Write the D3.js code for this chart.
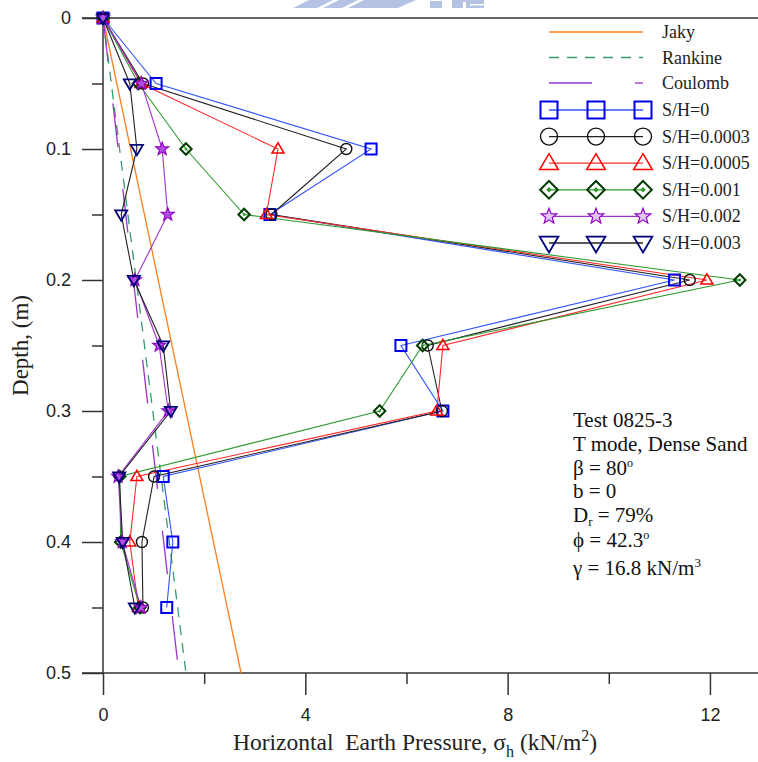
<!DOCTYPE html>
<html>
<head>
<meta charset="utf-8">
<script src="https://cdn.jsdelivr.net/npm/d3@7"></script>
<style>
  html, body { margin: 0; padding: 0; background: #fff; }
  svg { display: block; }
</style>
</head>
<body>
<svg id="chart" width="758" height="762"></svg>
<script>
// Depth levels (m) at which earth pressure was measured
const depths = [0, 0.05, 0.1, 0.15, 0.2, 0.25, 0.3, 0.35, 0.4, 0.45];

// Measured horizontal earth pressure (kN/m2) for each wall movement S/H
const sh0     = [0, 1.05, 5.30, 3.30, 11.30, 5.89, 6.72, 1.19, 1.38, 1.26];
const sh0003  = [0, 0.79, 4.81, 3.33, 11.60, 6.42, 6.70, 1.01, 0.77, 0.79];
const sh0005  = [0, 0.75, 3.46, 3.23, 11.94, 6.72, 6.60, 0.67, 0.53, 0.70];
const sh001   = [0, 0.70, 1.64, 2.79, 12.59, 6.32, 5.47, 0.33, 0.35, 0.73];
const sh002   = [0, 0.76, 1.17, 1.28, 0.63, 1.11, 1.29, 0.30, 0.38, 0.75];
const sh003   = [0, 0.53, 0.67, 0.36, 0.61, 1.19, 1.34, 0.32, 0.39, 0.63];

// Theoretical distributions: [pressure at surface, pressure at 0.5 m]
const theoryDepths = [0, 0.5];
const jaky     = [0, 2.73];
const rankine  = [0, 1.64];
const coulomb  = [0, 1.50];

// Axis ticks
const xMajorTicks = [0, 4, 8, 12];
const xMinorTicks = [2, 6, 10];
const yMajorTicks = [0, 0.1, 0.2, 0.3, 0.4, 0.5];
const yMinorTicks = [0.05, 0.15, 0.25, 0.35, 0.45];

const seriesNames = ["S/H=0", "S/H=0.0003", "S/H=0.0005", "S/H=0.001", "S/H=0.002", "S/H=0.003"];
const seriesValues = [sh0, sh0003, sh0005, sh001, sh002, sh003];

const annotationLines = [
  "Test 0825-3",
  "T mode, Dense Sand",
  "β = 80°",
  "b = 0",
  "Dr = 79%",
  "ϕ = 42.3°",
  "γ = 16.8 kN/m3"
];

const svg = d3.select("#chart");
const x = d3.scaleLinear().domain([0, 12.95]).range([103, 758]);
const y = d3.scaleLinear().domain([0, 0.5]).range([18, 673]);

// faint emblem fragment along the top edge
const wm = svg.append("g").attr("fill", "#b4c3e3");
[
  [[293,8],[317,8],[333,0],[309,0]],
  [[323,8],[342,8],[358,0],[339,0]],
  [[348,8],[398,8],[416,0],[364,0]]
].forEach(p => wm.append("polygon").attr("points", p.map(q => q.join(",")).join(" ")));
wm.append("rect").attr("x", 430).attr("y", 1).attr("width", 12).attr("height", 7);
wm.append("rect").attr("x", 452).attr("y", 0).attr("width", 32).attr("height", 8);
svg.append("rect").attr("x", 463).attr("y", 2).attr("width", 3).attr("height", 6).attr("fill", "#fff");
svg.append("rect").attr("x", 470).attr("y", 4).attr("width", 14).attr("height", 1.5).attr("fill", "#fff");

// frame lines
const axisColor = "#333";
svg.append("line").attr("x1", 82).attr("x2", 758).attr("y1", y(0)).attr("y2", y(0))
  .attr("stroke", axisColor).attr("stroke-width", 1.5);
svg.append("line").attr("x1", 82).attr("x2", 758).attr("y1", y(0.5)).attr("y2", y(0.5))
  .attr("stroke", axisColor).attr("stroke-width", 1.5);
svg.append("line").attr("x1", x(0)).attr("x2", x(0)).attr("y1", y(0)).attr("y2", y(0.5))
  .attr("stroke", axisColor).attr("stroke-width", 1.5);

// x axis
const xAxisMajor = d3.axisBottom(x).tickValues(xMajorTicks).tickSize(22).tickPadding(13)
  .tickFormat(d3.format("d"));
const gx = svg.append("g").attr("transform", `translate(0,${y(0.5)})`).call(xAxisMajor);
const xAxisMinor = d3.axisBottom(x).tickValues(xMinorTicks).tickSize(11).tickFormat("");
const gx2 = svg.append("g").attr("transform", `translate(0,${y(0.5)})`).call(xAxisMinor);

// y axis
const yAxisMajor = d3.axisLeft(y).tickValues(yMajorTicks).tickSize(21).tickPadding(11)
  .tickFormat(d => d === 0 ? "0" : d3.format(".1f")(d));
const gy = svg.append("g").attr("transform", `translate(${x(0)},0)`).call(yAxisMajor);
const yAxisMinor = d3.axisLeft(y).tickValues(yMinorTicks).tickSize(11).tickFormat("");
const gy2 = svg.append("g").attr("transform", `translate(${x(0)},0)`).call(yAxisMinor);

[gx, gx2, gy, gy2].forEach(g => {
  g.select(".domain").remove();
  g.selectAll(".tick line").attr("stroke", axisColor).attr("stroke-width", 1.5);
  g.selectAll(".tick text").attr("fill", "#222")
    .style("font-family", "'Liberation Sans', Arial, sans-serif").style("font-size", "18px");
});

// axis titles
const serif = "'Liberation Serif', 'Times New Roman', serif";
const xt = svg.append("text").attr("x", 415).attr("y", 750).attr("text-anchor", "middle")
  .style("font-family", serif).style("font-size", "23.5px").attr("fill", "#222");
xt.append("tspan").text("Horizontal\u00a0\u00a0Earth Pressure, σ");
xt.append("tspan").attr("dy", 7).style("font-size", "16px").text("h");
xt.append("tspan").attr("dy", -7).text(" (kN/m");
xt.append("tspan").attr("dy", -9).style("font-size", "16px").text("2");
xt.append("tspan").attr("dy", 9).text(")");

svg.append("text").attr("transform", `translate(28,${y(0.25)}) rotate(-90)`)
  .attr("text-anchor", "middle").style("font-family", serif).style("font-size", "23px")
  .attr("fill", "#222").text("Depth, (m)");

// theoretical lines
const theory = [
  { name: "Jaky", vals: jaky, color: "#ff7f1e", dash: null },
  { name: "Rankine", vals: rankine, color: "#3a9a6e", dash: "10,8" },
  { name: "Coulomb", vals: coulomb, color: "#9933cc", dash: "44,42" }
];
const tline = d3.line().x(d => x(d[0])).y(d => y(d[1]));
theory.forEach(t => {
  svg.append("path").datum(t.vals.map((v, i) => [v, theoryDepths[i]]))
    .attr("d", tline).attr("fill", "none").attr("stroke", t.color)
    .attr("stroke-width", 1.3).attr("stroke-dasharray", t.dash);
});

// marker shapes
function squarePath(s) { const h = s / 2; return `M${-h},${-h}H${h}V${h}H${-h}Z`; }
function circlePath(d) { const r = d / 2; return `M${r},0A${r},${r} 0 1,1 ${-r},0A${r},${r} 0 1,1 ${r},0Z`; }
function triPath(w, up) {
  const h = w * 0.85, s = up ? 1 : -1;
  return `M0,${-s * h * 0.6}L${w / 2},${s * h * 0.4}L${-w / 2},${s * h * 0.4}Z`;
}
function diamondPath(r) { return `M0,${-r}L${r},0L0,${r}L${-r},0Z`; }
function starPath(R) {
  const r = R * 0.42; let p = "";
  for (let i = 0; i < 10; i++) {
    const a = -Math.PI / 2 + i * Math.PI / 5, rr = i % 2 ? r : R;
    p += (i ? "L" : "M") + (rr * Math.cos(a)).toFixed(2) + "," + (rr * Math.sin(a)).toFixed(2);
  }
  return p + "Z";
}

const styles = [
  { line: "#3355ff", stroke: "#0000ee", fill: "none", sw: 2,   shape: s => squarePath(s * 1.0) },
  { line: "#222",    stroke: "#111",    fill: "none", sw: 1.4, shape: s => circlePath(s * 1.0) },
  { line: "#ff2a2a", stroke: "#ff0000", fill: "none", sw: 1.5, shape: s => triPath(s * 1.1, true) },
  { line: "#2e9a2e", stroke: "#003a00", fill: "none", sw: 2,   shape: s => diamondPath(s * 0.52), inner: true },
  { line: "#a030d0", stroke: "#9000c8", fill: "#b050e0", sw: 1.2, shape: s => starPath(s * 0.62), legendScale: 0.78, legendFill: "#e3c6f2" },
  { line: "#222",    stroke: "#000077", fill: "none", sw: 1.8, shape: s => triPath(s * 1.1, false) }
];

function drawMarker(g, st, cx, cy, size, inLegend) {
  const sz = inLegend && st.legendScale ? size * st.legendScale : size;
  const fill = inLegend && st.legendFill ? st.legendFill : st.fill;
  g.append("path").attr("transform", `translate(${cx},${cy})`).attr("d", st.shape(sz))
    .attr("fill", fill).attr("stroke", st.stroke).attr("stroke-width", st.sw)
    .attr("stroke-linejoin", "miter");
  if (st.inner) {
    g.append("path").attr("transform", `translate(${cx},${cy})`).attr("d", diamondPath(sz * 0.16))
      .attr("fill", "#2e9a2e");
  }
}

// measured series
const sline = d3.line().x(d => x(d[0])).y(d => y(d[1]));
const plot = svg.append("g");
seriesValues.forEach((vals, k) => {
  const pts = vals.map((v, i) => [v, depths[i]]);
  plot.append("path").datum(pts).attr("d", sline).attr("fill", "none")
    .attr("stroke", styles[k].line).attr("stroke-width", 1.1);
});
seriesValues.forEach((vals, k) => {
  const g = plot.append("g");
  vals.forEach((v, i) => drawMarker(g, styles[k], x(v), y(depths[i]), 11, false));
});

// legend
const leg = svg.append("g");
const lx1 = 549, lx2 = 643, lxm = 596, ltx = 662;
theory.forEach((t, i) => {
  const yy = 32 + i * 25.5;
  if (t.name === "Coulomb") {
    leg.append("line").attr("x1", lx1).attr("x2", 592).attr("y1", yy).attr("y2", yy)
      .attr("stroke", t.color).attr("stroke-width", 1.3);
    leg.append("line").attr("x1", 635).attr("x2", lx2).attr("y1", yy).attr("y2", yy)
      .attr("stroke", t.color).attr("stroke-width", 1.3);
  } else {
    leg.append("line").attr("x1", lx1).attr("x2", lx2).attr("y1", yy).attr("y2", yy)
      .attr("stroke", t.color).attr("stroke-width", 1.3).attr("stroke-dasharray", t.dash);
  }
  leg.append("text").attr("x", ltx).attr("y", yy + 6).text(t.name)
    .style("font-family", serif).style("font-size", "18px").attr("fill", "#222");
});
seriesNames.forEach((name, k) => {
  const yy = 110 + k * 26.6;
  leg.append("line").attr("x1", lx1).attr("x2", lx2).attr("y1", yy).attr("y2", yy)
    .attr("stroke", styles[k].line).attr("stroke-width", 1.3);
  [lx1, lxm, lx2].forEach(cx => drawMarker(leg, styles[k], cx, yy, 17, true));
  leg.append("text").attr("x", ltx).attr("y", yy + 6).text(name)
    .style("font-family", serif).style("font-size", "18px").attr("fill", "#222");
});

// test description
const ann = svg.append("g").style("font-family", serif).style("font-size", "21px").attr("fill", "#111");
const annY = [427, 451, 475, 498, 522, 547, 575];
annotationLines.forEach((txt, i) => {
  const t = ann.append("text").attr("x", 573).attr("y", annY[i]);
  if (txt.startsWith("Dr")) {
    t.append("tspan").text("D");
    t.append("tspan").attr("dy", 4).style("font-size", "13px").text("r");
    t.append("tspan").attr("dy", -4).text(txt.slice(2));
  } else if (txt.endsWith("°")) {
    t.append("tspan").text(txt.slice(0, -1));
    t.append("tspan").attr("dy", -8).style("font-size", "12px").text("o");
  } else if (txt.endsWith("m3")) {
    t.append("tspan").text(txt.slice(0, -1));
    t.append("tspan").attr("dy", -8).style("font-size", "13px").text("3");
  } else {
    t.text(txt);
  }
});
</script>
</body>
</html>
